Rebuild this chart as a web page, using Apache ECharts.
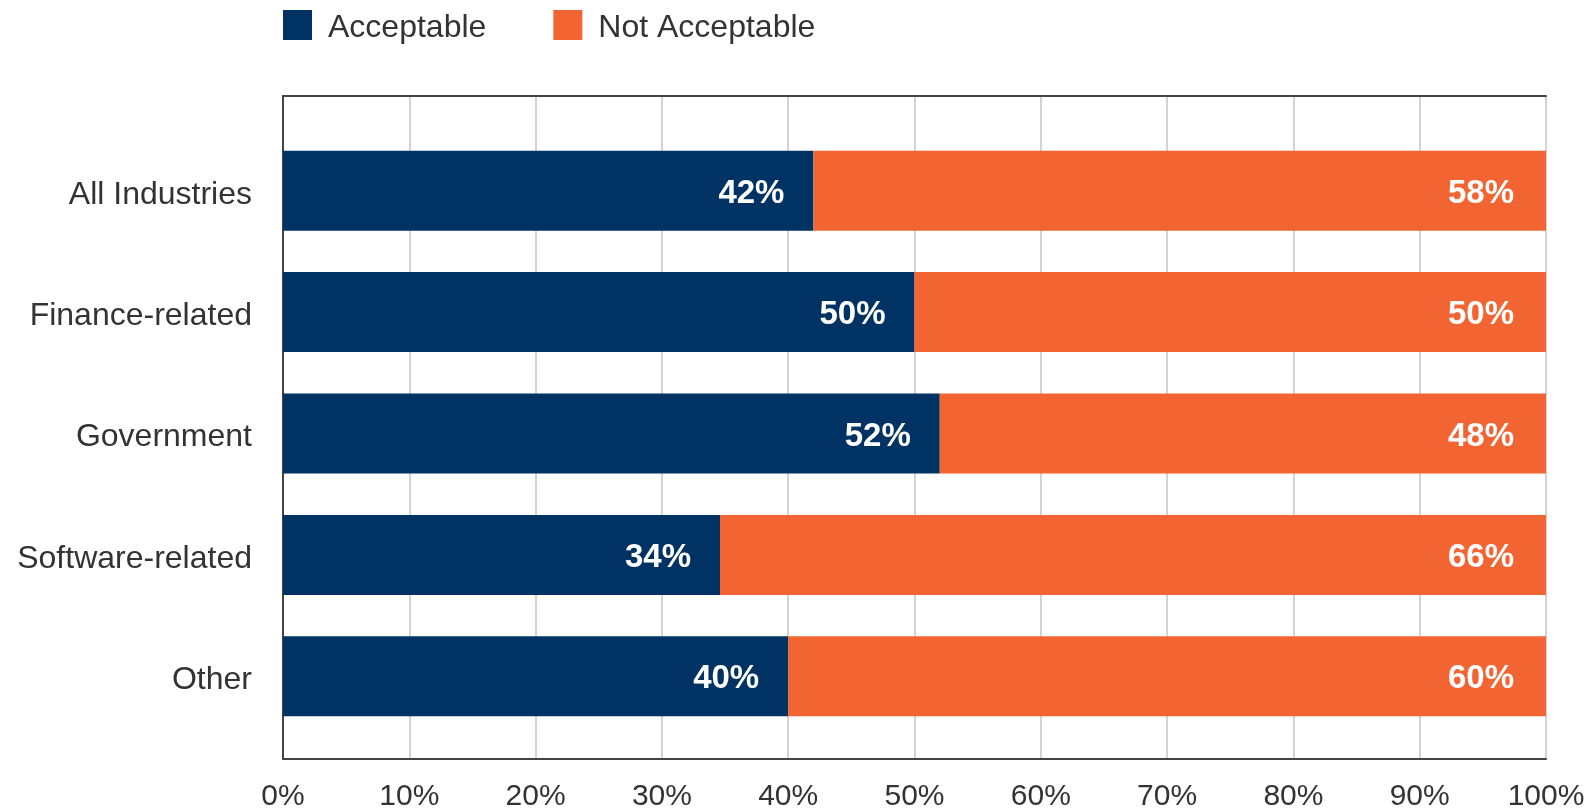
<!DOCTYPE html>
<html>
<head>
<meta charset="utf-8">
<script src="https://cdn.jsdelivr.net/npm/echarts@6/dist/echarts.min.js"></script>
<style>
html,body{margin:0;padding:0;background:#fff;}
#chart{width:1596px;height:812px;}
</style>
</head>
<body>
<div id="chart"></div>
<script>
const categories = ['All Industries', 'Finance-related', 'Government', 'Software-related', 'Other'];
const acceptable = [42, 50, 52, 34.6, 40];
const notAcceptable = [58, 50, 48, 65.4, 60];
const acceptableLabels = ['42%', '50%', '52%', '34%', '40%'];
const notAcceptableLabels = ['58%', '50%', '48%', '66%', '60%'];
const xTicks = [0, 10, 20, 30, 40, 50, 60, 70, 80, 90, 100];

const FONT = '"Liberation Sans", Arial, sans-serif';
const NAVY = '#003264';
const ORANGE = '#F26532';

const chart = echarts.init(document.getElementById('chart'));
chart.setOption({
  animation: false,
  textStyle: { fontFamily: FONT },
  legend: {
    left: 283, top: 10, padding: 0,
    itemWidth: 29, itemHeight: 30, itemGap: 67,
    icon: 'rect',
    formatter: name => '{t|' + name + '}',
    textStyle: {
      fontSize: 32, color: '#333', fontFamily: FONT, padding: [0, 0, 0, 11],
      rich: { t: { fontSize: 32, color: '#333', fontFamily: FONT, padding: [6, 0, 0, 0] } }
    },
    data: ['Acceptable', 'Not Acceptable']
  },
  grid: [
    { left: 283, right: 50, top: 96, bottom: 49 },
    { left: 283, right: 50, top: 130, bottom: 75 }
  ],
  xAxis: [
    {
      gridIndex: 0, type: 'value', min: xTicks[0], max: xTicks[xTicks.length - 1], interval: 10,
      axisLine: { show: true, lineStyle: { color: '#444', width: 2 } },
      axisTick: { show: false },
      splitLine: { show: true, lineStyle: { color: '#d3d3d3', width: 2 } },
      axisLabel: { formatter: '{value}%', fontSize: 30, color: '#333', margin: 23, fontFamily: FONT }
    },
    {
      gridIndex: 0, type: 'value', position: 'top', min: 0, max: 100,
      axisLine: { show: true, lineStyle: { color: '#444', width: 2 } },
      axisTick: { show: false }, axisLabel: { show: false }, splitLine: { show: false }
    },
    {
      gridIndex: 1, type: 'value', min: 0, max: 100, show: false
    }
  ],
  yAxis: [
    {
      gridIndex: 0, type: 'value', min: 0, max: 1,
      axisLine: { show: true, lineStyle: { color: '#444', width: 2 } },
      axisTick: { show: false }, axisLabel: { show: false }, splitLine: { show: false }
    },
    {
      gridIndex: 1, type: 'category', data: categories, inverse: true,
      axisLine: { show: false }, axisTick: { show: false }, splitLine: { show: false },
      axisLabel: {
        fontSize: 32, color: '#333', margin: 31, fontFamily: FONT,
        formatter: v => '{c|' + v + '}',
        rich: { c: { fontSize: 32, color: '#333', fontFamily: FONT, padding: [8, 0, 0, 0] } }
      }
    }
  ],
  series: [
    {
      name: 'Acceptable', type: 'bar', stack: 'total', xAxisIndex: 2, yAxisIndex: 1,
      data: acceptable, barWidth: 80, itemStyle: { color: NAVY },
      label: {
        show: true, position: 'insideRight', distance: 29, color: '#fff', offset: [0, 3],
        fontSize: 33, fontWeight: 'bold', fontFamily: FONT,
        formatter: p => acceptableLabels[p.dataIndex]
      }
    },
    {
      name: 'Not Acceptable', type: 'bar', stack: 'total', xAxisIndex: 2, yAxisIndex: 1,
      data: notAcceptable, barWidth: 80, itemStyle: { color: ORANGE },
      label: {
        show: true, position: 'insideRight', distance: 32, color: '#fff', offset: [0, 3],
        fontSize: 33, fontWeight: 'bold', fontFamily: FONT,
        formatter: p => notAcceptableLabels[p.dataIndex]
      }
    }
  ]
});
</script>
</body>
</html>
